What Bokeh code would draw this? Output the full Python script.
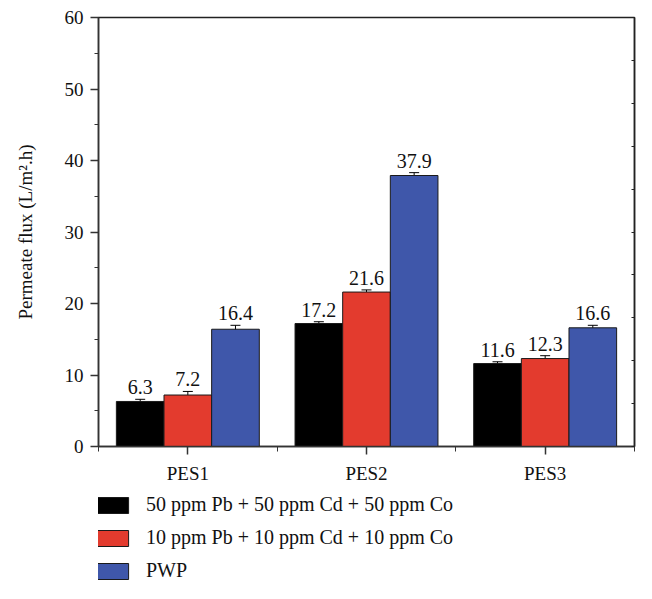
from bokeh.plotting import figure
from bokeh.layouts import column
from bokeh.models import (ColumnDataSource, FixedTicker, LinearAxis, Legend, LegendItem,
                          Whisker, TeeHead, Range1d)
from bokeh.core.properties import value
from bokeh.embed import file_html
from bokeh.resources import INLINE

categories = ["PES1", "PES2", "PES3"]
series_names = ["50 ppm Pb + 50 ppm Cd + 50 ppm Co",
                "10 ppm Pb + 10 ppm Cd + 10 ppm Co",
                "PWP"]
mix50 = [6.3, 17.2, 11.6]
mix10 = [7.2, 21.6, 12.3]
pwp = [16.4, 37.9, 16.6]
err50 = [0.3, 0.25, 0.25]
err10 = [0.5, 0.3, 0.4]
errpwp = [0.55, 0.4, 0.35]
y_ticks = [0, 10, 20, 30, 40, 50, 60]
y_minor = [5, 15, 25, 35, 45, 55]
right_ticks = [0, 6, 12, 18, 24, 30, 36, 42, 48, 54, 60]

colors = ["#000000", "#E33B2E", "#3F57AA"]
FONT = "Liberation Serif"
TXT = "#111111"
AX = "#333333"

p = figure(width=636, height=490, output_backend="svg", toolbar_location=None,
           x_range=Range1d(0.5, 3.5), y_range=Range1d(0, 60),
           min_border_left=98, min_border_right=2, min_border_top=17,
           min_border_bottom=44)
p.xgrid.visible = False
p.ygrid.visible = False
p.outline_line_color = "#222222"
p.outline_line_width = 1.5

bw = 0.8 / 3
offsets = [-bw, 0.0, bw]
series = [mix50, mix10, pwp]
errs = [err50, err10, errpwp]
sources = []
for vals, err, off, col in zip(series, errs, offsets, colors):
    xs = [i + 1 + off for i in range(len(categories))]
    src = ColumnDataSource(dict(x=xs, top=vals,
                                lo=[v - e for v, e in zip(vals, err)],
                                hi=[v + e for v, e in zip(vals, err)],
                                lab=[f"{v:.1f}" for v in vals]))
    sources.append(src)
    p.vbar(x="x", top="top", width=bw, source=src, fill_color=col,
           line_color="#1a1a1a", line_width=1)
    w = Whisker(base="x", lower="lo", upper="hi", source=src,
                line_color="black", line_width=1,
                upper_head=TeeHead(size=10, line_color="black", line_width=1),
                lower_head=TeeHead(size=10, line_color="black", line_width=1))
    p.add_layout(w)
    p.text(x="x", y="hi", text="lab", source=src, text_align="center",
           text_baseline="bottom", y_offset=-5, text_font=value(FONT),
           text_font_size="20px", text_color=TXT)

# x axis
xa = p.xaxis[0]
xa.ticker = FixedTicker(ticks=[1, 2, 3], minor_ticks=[0.5, 1.5, 2.5, 3.5])
xa.major_label_overrides = {i + 1: c for i, c in enumerate(categories)}
xa.major_tick_out = 8
xa.major_tick_in = 0
xa.minor_tick_out = 5
xa.minor_tick_in = 0
xa.major_label_standoff = 8
xa.major_label_text_font = FONT
xa.major_label_text_font_size = "19px"
xa.major_label_text_color = TXT
xa.axis_line_color = AX
xa.axis_line_width = 1.5
xa.major_tick_line_color = AX
xa.minor_tick_line_color = AX
xa.major_tick_line_width = 1.5

# y axis
ya = p.yaxis[0]
ya.ticker = FixedTicker(ticks=y_ticks, minor_ticks=y_minor)
ya.major_tick_out = 8
ya.major_tick_in = 0
ya.minor_tick_out = 4
ya.minor_tick_in = 0
ya.major_label_standoff = 7
ya.major_label_text_font = FONT
ya.major_label_text_font_size = "19px"
ya.major_label_text_color = TXT
ya.axis_label = "Permeate flux (L/m\u00b2.h)"
ya.axis_label_text_font = FONT
ya.axis_label_text_font_size = "19px"
ya.axis_label_text_font_style = "normal"
ya.axis_label_text_color = TXT
ya.axis_label_standoff = 26
ya.axis_line_color = AX
ya.axis_line_width = 1.5
ya.major_tick_line_color = AX
ya.minor_tick_line_color = AX
ya.major_tick_line_width = 1.5

# right axis with small inward ticks, no labels
ra = LinearAxis(ticker=FixedTicker(ticks=right_ticks, minor_ticks=[]),
                major_tick_in=3, major_tick_out=0, minor_tick_in=0, minor_tick_out=0,
                major_label_overrides={t: "" for t in right_ticks},
                axis_line_color="#222222", axis_line_width=1.5,
                major_tick_line_color="#222222", major_label_standoff=0)
p.add_layout(ra, "right")

# legend panel (renderers share the chart's data but lie outside this panel's view)
lg = figure(width=636, height=93, output_backend="svg", toolbar_location=None,
            x_range=Range1d(0, 1), y_range=Range1d(1000, 1001),
            x_axis_location=None, y_axis_location=None,
            min_border_left=0, min_border_right=0, min_border_top=0, min_border_bottom=0)
lg.xgrid.visible = False
lg.ygrid.visible = False
lg.outline_line_color = None
items = []
for name, col, src in zip(series_names, colors, sources):
    r = lg.vbar(x="x", top="top", width=bw, source=src, fill_color=col,
                line_color="#1a1a1a", line_width=1)
    items.append(LegendItem(label=name, renderers=[r]))
legend = Legend(items=items, orientation="vertical", location=(-5, 1),
                glyph_width=39, glyph_height=20, spacing=10, label_standoff=14,
                label_text_font=FONT, label_text_font_size="20px",
                label_height=20, label_text_baseline="middle",
                label_text_color=TXT, border_line_color=None,
                background_fill_alpha=0, padding=0, margin=0)
lg.add_layout(legend, "center")

layout = column(p, lg, spacing=0)
open("out.html", "w").write(file_html(layout, INLINE))
